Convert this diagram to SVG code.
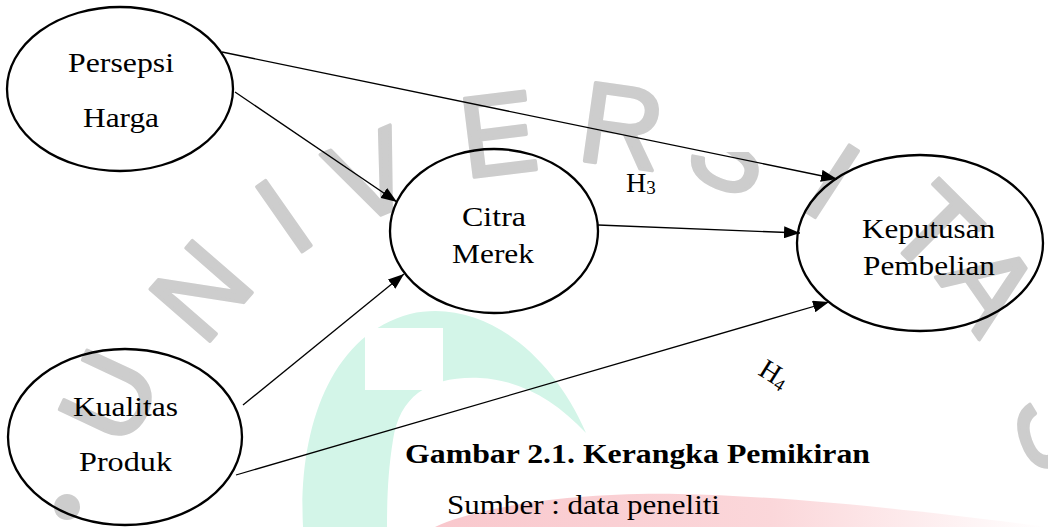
<svg xmlns="http://www.w3.org/2000/svg" width="1048" height="527" viewBox="0 0 1048 527">
  <defs>
    <style>
      .wm { font-family: "Liberation Sans", Arial, sans-serif; font-size: 115px; fill: #cdcdcd; stroke: #cdcdcd; stroke-width: 3.5; stroke-linejoin: round; text-anchor: middle; }
      .node { fill: none; stroke: #000; stroke-width: 2.3; }
      .lbl { font-family: "Liberation Serif", "Times New Roman", serif; font-size: 28px; fill: #000; }
      .edge { fill: none; stroke: #000; stroke-width: 1.3; marker-end: url(#arrow); }
      .cap { font-family: "Liberation Serif", "Times New Roman", serif; font-size: 28px; font-weight: bold; fill: #000; }
    </style>
    <marker id="arrow" viewBox="0 0 16 12" refX="16" refY="6" markerWidth="16" markerHeight="12" markerUnits="userSpaceOnUse" orient="auto">
      <path d="M0,0 L16,6 L0,12 Z" fill="#000"/>
    </marker>
    <linearGradient id="pinkFade" x1="0" y1="0" x2="1" y2="0">
      <stop offset="0" stop-color="#f9c8cd"/>
      <stop offset="0.55" stop-color="#fbd7da"/>
      <stop offset="1" stop-color="#ffffff"/>
    </linearGradient>
  </defs>

  <rect width="1048" height="527" fill="#fff"/>

  <!-- background emblem and lettering -->
  <g id="watermark">
    <path d="M303,527 C298,430 330,335 410,314 C480,298 550,350 586,433 C555,400 520,380 480,378 C430,376 400,395 393,440 C388,470 387,500 387,527 Z" fill="#d3f5e8"/>
    <rect x="365" y="328" width="78" height="62" fill="#fff"/>
    <path d="M435,527 C470,510 560,492 678,494 C780,496 900,508 1048,527 Z" fill="url(#pinkFade)"/>
    <circle cx="67" cy="507" r="13" fill="#cdcdcd"/>
    <text class="wm" transform="translate(108,396) rotate(-65)" y="41">U</text>
    <text class="wm" transform="translate(200,290) rotate(-49)" y="41">N</text>
    <text class="wm" transform="translate(283,215) rotate(-35)" y="41">I</text>
    <text class="wm" transform="translate(370,175) rotate(-23)" y="41">V</text>
    <text class="wm" transform="translate(498,133) rotate(-7)" y="41">E</text>
    <text class="wm" transform="translate(622,125) rotate(8)" y="41">R</text>
    <text class="wm" transform="translate(732,148) rotate(22)" y="41">S</text>
    <rect x="686" y="88" width="96" height="64" fill="#fff"/>
    <text class="wm" transform="translate(833,180) rotate(33)" y="41">I</text>
    <text class="wm" transform="translate(935,228) rotate(45)" y="41">T</text>
    <text class="wm" transform="translate(991,285) rotate(55)" y="41">A</text>
    <text class="wm" transform="translate(1062,428) rotate(70)" y="41">S</text>
  </g>

  <!-- connectors -->
  <g id="connectors">
    <line class="edge" x1="222" y1="52" x2="837" y2="179"/>
    <line class="edge" x1="235" y1="92" x2="397" y2="202"/>
    <line class="edge" x1="598" y1="225" x2="800" y2="233"/>
    <line class="edge" x1="243" y1="405" x2="404" y2="274"/>
    <line class="edge" x1="236" y1="475" x2="829" y2="302"/>
  </g>

  <g id="persepsi-harga">
    <ellipse class="node" cx="120" cy="89" rx="113" ry="82"/>
    <text class="lbl" x="68" y="72" textLength="106" lengthAdjust="spacingAndGlyphs">Persepsi</text>
    <text class="lbl" x="83" y="127" textLength="76" lengthAdjust="spacingAndGlyphs">Harga</text>
  </g>

  <g id="citra-merek">
    <ellipse class="node" cx="494" cy="231" rx="104" ry="82"/>
    <text class="lbl" x="462" y="226" textLength="64" lengthAdjust="spacingAndGlyphs">Citra</text>
    <text class="lbl" x="452" y="263" textLength="82" lengthAdjust="spacingAndGlyphs">Merek</text>
  </g>

  <g id="keputusan-pembelian">
    <ellipse class="node" cx="920" cy="243" rx="123" ry="88"/>
    <text class="lbl" x="862" y="238" textLength="133" lengthAdjust="spacingAndGlyphs">Keputusan</text>
    <text class="lbl" x="863" y="275" textLength="132" lengthAdjust="spacingAndGlyphs">Pembelian</text>
  </g>

  <g id="kualitas-produk">
    <ellipse class="node" cx="125" cy="437" rx="117" ry="88"/>
    <text class="lbl" x="73" y="416" textLength="105" lengthAdjust="spacingAndGlyphs">Kualitas</text>
    <text class="lbl" x="79" y="471" textLength="93" lengthAdjust="spacingAndGlyphs">Produk</text>
  </g>

  <g id="label-h3">
    <text class="lbl" x="626" y="192">H<tspan font-size="19" dy="2">3</tspan></text>
  </g>

  <g id="label-h4">
    <text class="lbl" font-size="27" transform="translate(757,374) rotate(32)">H<tspan font-size="18" dy="3">4</tspan></text>
  </g>

  <g id="caption">
    <text class="cap" x="405" y="463" textLength="465" lengthAdjust="spacingAndGlyphs">Gambar 2.1. Kerangka Pemikiran</text>
    <text class="lbl" x="447" y="514" textLength="273" lengthAdjust="spacingAndGlyphs">Sumber : data peneliti</text>
  </g>
</svg>
